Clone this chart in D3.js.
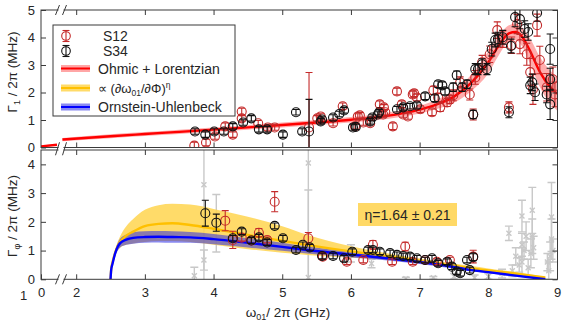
<!DOCTYPE html>
<html><head><meta charset="utf-8">
<script src="https://cdn.jsdelivr.net/npm/d3@7"></script>
<style>
body{margin:0;background:#fff}
svg{display:block}
text{font-family:"Liberation Sans",Arial,sans-serif;fill:#262626}
</style>
</head><body>
<svg id="c" width="569" height="325"></svg>
<script>
// ---------- tick labels ----------
const xTicks = [0, 2, 3, 4, 5, 6, 7, 8, 9];
const yTopTicks = [0, 1, 2, 3, 4, 5];
const yBotTicks = [0, 1, 2, 3, 4];

// ---------- top panel: Gamma_1 data [freq GHz, value MHz, error] ----------
const s12Top = [[3.72,0.07,0.12],[3.89,0.18,0.12],[4.02,0.40,0.1],[4.17,0.77,0.12],[4.28,0.47,0.1],[4.41,1.31,0.12],[4.41,1.06,0.1],[4.65,0.88,0.1],[4.79,0.73,0.1],[4.89,0.73,0.1],[5.39,0.73,2.0],[5.51,1.06,0.1],[5.56,1.13,0.1],[5.74,0.88,0.1],[5.88,1.50,0.12],[6.06,0.77,0.1],[6.10,1.13,0.1],[6.13,1.17,0.1],[6.18,0.91,0.1],[6.28,0.88,0.1],[6.42,1.57,0.12],[6.47,1.20,0.1],[6.48,1.46,0.1],[6.50,1.28,0.1],[6.61,0.77,0.12],[6.67,2.04,0.12],[6.74,1.57,0.12],[6.76,1.20,0.1],[6.83,1.13,0.1],[6.90,1.93,0.12],[6.92,1.97,0.12],[6.96,1.82,0.12],[7.01,1.39,0.12],[7.18,1.28,0.12],[7.20,2.08,0.15],[7.27,1.82,0.15],[7.30,1.46,0.15],[7.40,1.64,0.15],[7.44,1.75,0.15],[7.49,1.90,0.2],[7.59,2.37,0.2],[7.73,1.93,0.2],[7.78,1.20,0.2],[7.81,2.55,0.25],[7.91,3.10,0.25],[8.02,3.39,0.3],[8.13,4.27,0.3],[8.21,3.94,0.3],[8.30,1.46,0.2],[8.34,3.72,0.3],[8.42,4.49,0.35],[8.46,3.76,0.35],[8.56,3.39,0.4],[8.61,2.74,0.5],[8.65,2.12,0.55],[8.71,4.45,0.4],[8.75,3.18,0.5],[8.85,2.19,0.5],[8.94,2.48,0.45],[8.97,1.93,0.45]];
const s34Top = [[3.73,0.58,0.1],[3.88,0.47,0.1],[4.01,0.58,0.1],[4.15,0.58,0.1],[4.28,0.77,0.1],[4.43,0.91,0.1],[4.55,1.06,0.1],[4.66,0.66,0.1],[4.78,0.66,0.1],[5.01,0.47,0.1],[5.20,1.28,0.1],[5.29,0.58,0.1],[5.39,0.58,1.17],[5.56,0.95,0.1],[5.58,1.02,0.1],[5.74,1.09,0.1],[5.83,1.22,0.1],[5.90,1.35,0.1],[6.03,0.73,0.1],[6.07,0.75,0.1],[6.28,0.95,0.1],[6.31,1.09,0.1],[6.39,1.20,0.1],[6.41,1.28,0.1],[6.67,1.39,0.1],[6.76,1.46,0.1],[6.86,1.50,0.1],[6.96,1.53,0.1],[7.08,1.86,0.12],[7.22,1.79,0.12],[7.27,2.30,0.12],[7.33,2.26,0.12],[7.37,2.04,0.12],[7.49,2.19,0.15],[7.54,2.63,0.15],[7.62,2.19,0.15],[7.69,2.30,0.15],[7.78,1.20,0.15],[7.81,2.85,0.2],[7.85,2.85,0.2],[7.91,3.03,0.2],[7.98,2.85,0.2],[8.05,3.58,0.25],[8.10,3.91,0.25],[8.14,3.94,0.25],[8.21,4.01,0.25],[8.30,1.28,0.2],[8.33,3.69,0.25],[8.39,4.74,0.35],[8.46,4.67,0.35],[8.53,4.31,0.3],[8.58,4.20,0.3],[8.61,2.26,0.3],[8.64,2.37,0.3],[8.68,2.01,0.3],[8.71,4.89,0.3],[8.85,1.93,0.3],[8.90,3.58,0.55],[8.90,2.48,0.4],[8.90,1.57,0.55]];

// Ohmic + Lorentzian fit [freq, value, band half-width]
const fitLowSeg = [[0,0.04,0.03],[0.3,0.10,0.03]];
const fitMain = [[1.8,0.29,0.06],[2.5,0.41,0.07],[3.0,0.49,0.07],[3.5,0.57,0.08],[4.0,0.65,0.08],[4.5,0.73,0.08],[5.0,0.82,0.09],[5.5,0.91,0.09],[6.0,1.01,0.1],[6.5,1.14,0.11],[7.0,1.38,0.14],[7.25,1.57,0.17],[7.5,1.85,0.22],[7.75,2.35,0.3],[8.0,3.1,0.4],[8.15,3.7,0.35],[8.3,4.15,0.3],[8.4,4.2,0.3],[8.5,4.0,0.35],[8.6,3.55,0.45],[8.75,2.75,0.55],[8.9,2.2,0.6],[9.0,1.95,0.6]];

// ---------- bottom panel: Gamma_phi data ----------
const s12Bot = [[4.17,2.04,0.35],[4.28,1.37,0.3],[4.41,1.45,0.12],[4.55,1.35,0.1],[4.66,1.62,0.15],[4.78,1.37,0.1],[4.89,2.70,0.35],[5.38,1.43,0.2],[5.59,0.79,0.1],[5.94,0.61,0.1],[6.18,0.67,0.1],[6.32,1.20,0.15],[6.60,0.61,0.1],[6.79,1.14,0.15],[6.90,0.61,0.1],[7.08,0.67,0.1],[7.25,0.61,0.1],[7.44,0.67,0.1],[7.78,0.79,0.22]];
const s34Bot = [[3.88,2.30,0.45],[4.04,1.97,0.3],[4.28,1.43,0.1],[4.41,1.66,0.1],[4.55,1.35,0.1],[4.66,1.46,0.1],[4.78,1.28,0.1],[4.89,1.86,0.1],[5.01,1.43,0.1],[5.20,1.02,0.1],[5.30,1.20,0.1],[5.40,1.11,0.1],[5.58,0.81,0.1],[5.74,0.81,0.1],[5.90,0.73,0.1],[6.02,0.96,0.1],[6.25,1.02,0.1],[6.32,1.02,0.1],[6.42,0.96,0.1],[6.57,0.91,0.1],[6.67,0.85,0.1],[6.76,0.81,0.1],[6.86,0.79,0.1],[6.96,0.73,0.1],[7.08,0.67,0.1],[7.18,0.73,0.1],[7.27,0.56,0.1],[7.40,0.61,0.1],[7.47,0.44,0.1],[7.54,0.27,0.1],[7.59,0.21,0.1],[7.69,0.67,0.1],[7.73,0.32,0.1],[7.78,0.77,0.12]];
const excludedBot = [[3.86,3.29,3.5],[3.86,0.67,0.35],[3.72,0.12,0.3],[4.04,1.95,1.0],[5.38,4.05,4.5],[5.38,0.06,3.05],[6.0,0.9,0.3],[6.3,0.55,0.15],[6.8,0.02,0.05],[7.2,0.05,0.05],[7.5,0.1,0.1],[7.8,0.05,0.1],[8.0,0.1,0.1],[8.2,0.2,0.15],[8.30,1.6,0.25],[8.35,0.3,0.2],[8.40,0.8,0.3],[8.45,0.5,0.25],[8.49,2.2,0.55],[8.49,1.2,0.4],[8.49,0.6,0.5],[8.52,1.0,0.3],[8.55,1.5,0.5],[8.58,0.4,0.3],[8.62,0.9,0.5],[8.64,2.4,0.8],[8.64,1.5,0.6],[8.66,1.1,0.4],[8.86,0.6,0.3],[8.88,0.3,0.3],[8.90,0.8,0.5],[8.92,1.4,0.7],[8.92,2.17,1.2],[8.94,1.0,0.4]];

// fits
const fitPhiF    = [2.5,2.51,2.53,2.57,2.64,2.73,2.83,3.0,3.2,3.4,3.66,4.0,4.5,5.0,5.36,6.0,6.42,7.0,7.5,7.73,8.0,8.46,8.83];
const fitYel     = [0,0.35,0.6,0.95,1.3,1.52,1.66,1.85,1.93,1.95,1.89,1.76,1.54,1.34,1.2,0.97,0.84,0.64,0.47,0.39,0.31,0.18,0.06];
const fitYelHi   = [0,0.37,0.65,1.05,1.5,1.85,2.1,2.42,2.58,2.63,2.6,2.45,2.18,1.85,1.55,1.15,0.95,0.72,0.55,0.47,0.38,0.23,0.08];
const fitYelLo   = [0,0.33,0.55,0.85,1.1,1.2,1.25,1.3,1.33,1.33,1.3,1.2,1.05,0.92,0.85,0.75,0.7,0.55,0.4,0.33,0.26,0.14,0.04];
const fitBlue    = [0,0.33,0.55,0.92,1.26,1.38,1.44,1.47,1.48,1.47,1.46,1.40,1.27,1.13,1.02,0.86,0.76,0.6,0.43,0.33,0.25,0.11,0];
const fitBlueErr = [0,0.03,0.05,0.1,0.15,0.18,0.2,0.2,0.2,0.2,0.19,0.18,0.16,0.14,0.12,0.1,0.08,0.07,0.06,0.05,0.04,0.03,0];

const legendLabels = ["S12","S34","Ohmic + Lorentzian","","Ornstein-Uhlenbeck"];

// ---------- colours ----------
const RED = "#c42a2a", BLK = "#111", GRAY = "#c8c8c8";

// ---------- scales ----------
const X0 = 41, X1 = 557.5;
const x = d3.scaleLinear().domain([0, 0.3, 1.75, 9]).range([X0, 57, 59, 557]);
const yT = d3.scaleLinear().domain([0, 5]).range([147.5, 10]);
const yB = d3.scaleLinear().domain([0, 4.5]).range([279.3, 150]);

const svg = d3.select("#c");
const defs = svg.append("defs");
defs.append("clipPath").attr("id","cT").append("rect").attr("x",X0).attr("y",10).attr("width",X1-X0).attr("height",137.5);
defs.append("clipPath").attr("id","cB").append("rect").attr("x",X0).attr("y",150).attr("width",X1-X0).attr("height",129.3);

const gT = svg.append("g").attr("clip-path","url(#cT)");
const gB = svg.append("g").attr("clip-path","url(#cB)");

// ---------- top fit ----------
function bandAndLine(g, pts, y){
  g.append("path").datum(pts)
    .attr("d", d3.area().x(d=>x(d[0])).y0(d=>y(d[1]-d[2])).y1(d=>y(d[1]+d[2])).curve(d3.curveMonotoneX))
    .attr("fill","#ff0000").attr("fill-opacity",0.32);
  g.append("path").datum(pts)
    .attr("d", d3.line().x(d=>x(d[0])).y(d=>y(d[1])).curve(d3.curveMonotoneX))
    .attr("fill","none").attr("stroke","#ff0000").attr("stroke-width",2.4);
}
bandAndLine(gT, fitLowSeg, yT);
bandAndLine(gT, fitMain, yT);

// ---------- points ----------
function points(g, data, y, color, w){
  const s = g.append("g").attr("stroke",color).attr("fill","none").attr("stroke-width",w||1.1);
  data.forEach(d=>{
    const cx = x(d[0]), lo = y(d[1]-d[2]), hi = y(d[1]+d[2]);
    s.append("line").attr("x1",cx).attr("x2",cx).attr("y1",lo).attr("y2",hi);
    s.append("line").attr("x1",cx-3.5).attr("x2",cx+3.5).attr("y1",lo).attr("y2",lo);
    s.append("line").attr("x1",cx-3.5).attr("x2",cx+3.5).attr("y1",hi).attr("y2",hi);
    s.append("circle").attr("cx",cx).attr("cy",y(d[1])).attr("r",4.5);
  });
}
function crosses(g, data, y, color){
  const s = g.append("g").attr("stroke",color).attr("fill","none").attr("stroke-width",1.4);
  data.forEach(d=>{
    const cx = x(d[0]), cy = y(d[1]), lo = y(d[1]-d[2]), hi = y(d[1]+d[2]);
    s.append("line").attr("x1",cx).attr("x2",cx).attr("y1",lo).attr("y2",hi);
    s.append("line").attr("x1",cx-4).attr("x2",cx+4).attr("y1",lo).attr("y2",lo);
    s.append("line").attr("x1",cx-4).attr("x2",cx+4).attr("y1",hi).attr("y2",hi);
    s.append("path").attr("d",`M${cx-2.5},${cy-2.5}L${cx+2.5},${cy+2.5}M${cx-2.5},${cy+2.5}L${cx+2.5},${cy-2.5}`);
  });
}
points(gT, s12Top, yT, RED);
points(gT, s34Top, yT, BLK);

// ---------- bottom ----------
crosses(gB, excludedBot, yB, GRAY);
const idx = d3.range(fitPhiF.length);
gB.append("path").datum(idx)
  .attr("d", d3.area().x(i=>x(fitPhiF[i])).y0(i=>yB(fitYelLo[i])).y1(i=>yB(fitYelHi[i])).curve(d3.curveMonotoneX))
  .attr("fill","#ffd54f").attr("fill-opacity",0.85);
gB.append("path").datum(idx)
  .attr("d", d3.area().x(i=>x(fitPhiF[i])).y0(i=>yB(fitBlue[i]-fitBlueErr[i])).y1(i=>yB(fitBlue[i]+fitBlueErr[i])).curve(d3.curveMonotoneX))
  .attr("fill","#2a2ae6").attr("fill-opacity",0.55);
gB.append("path").datum(idx)
  .attr("d", d3.line().x(i=>x(fitPhiF[i])).y(i=>yB(fitYel[i])).curve(d3.curveMonotoneX))
  .attr("fill","none").attr("stroke","#ffc000").attr("stroke-width",2.4);
gB.append("path").datum(idx)
  .attr("d", d3.line().x(i=>x(fitPhiF[i])).y(i=>yB(fitBlue[i])).curve(d3.curveMonotoneX))
  .attr("fill","none").attr("stroke","#0000ff").attr("stroke-width",2.4);
points(gB, s12Bot, yB, RED);
points(gB, s34Bot, yB, BLK);

// ---------- axes ----------
const AX = "#3a3a3a";
function styleAxis(g){
  g.select(".domain").remove();
  g.selectAll(".tick line").attr("stroke",AX);
  g.selectAll(".tick text").attr("fill","#262626").style("font-size","13px").style("font-family","'Liberation Sans',Arial,sans-serif");
}
function panel(y, top, bot, yt, showX){
  svg.append("rect").attr("x",X0).attr("y",top).attr("width",X1-X0).attr("height",bot-top)
    .attr("fill","none").attr("stroke",AX).attr("stroke-width",1);
  svg.append("g").attr("transform",`translate(${X0},0)`)
    .call(d3.axisLeft(y).tickValues(yt).tickSize(-5).tickPadding(6).tickFormat(d3.format("d"))).call(styleAxis);
  svg.append("g").attr("transform",`translate(${X1},0)`)
    .call(d3.axisRight(y).tickValues(yt).tickSize(-5).tickFormat("")).call(styleAxis);
  svg.append("g").attr("transform",`translate(0,${top})`)
    .call(d3.axisTop(x).tickValues(xTicks.slice(1)).tickSize(-5).tickFormat("")).call(styleAxis);
  svg.append("g").attr("transform",`translate(0,${bot})`)
    .call(d3.axisBottom(x).tickValues(showX ? xTicks : xTicks.slice(1)).tickSize(-5).tickPadding(8.5)
      .tickFormat(showX ? d3.format("d") : "")).call(styleAxis);
}
panel(yT, 10, 147.5, yTopTicks, false);
panel(yB, 150, 279.3, yBotTicks, true);

// axis breaks
function brk(cx, cy, h){
  svg.append("rect").attr("x",cx-2.5).attr("y",cy-h/2+2).attr("width",5).attr("height",h-4).attr("fill","#fff");
  const g = svg.append("g").attr("stroke",AX).attr("stroke-width",1);
  g.append("line").attr("x1",cx-5.5).attr("y1",cy+h/2).attr("x2",cx-1.5).attr("y2",cy-h/2);
  g.append("line").attr("x1",cx+1.5).attr("y1",cy+h/2).attr("x2",cx+5.5).attr("y2",cy-h/2);
}
brk(61, 10, 10);
brk(61, 148.75, 13);
brk(61, 279.3, 10);

svg.append("text").attr("x",20).attr("y",300).style("font-size","13px").text("1");

// ---------- axis titles ----------
const t1 = svg.append("text").attr("transform","translate(17,72) rotate(-90)").attr("text-anchor","middle").style("font-size","13.5px");
t1.append("tspan").text("Γ");
t1.append("tspan").text("1").style("font-size","9px").attr("dy",3);
t1.append("tspan").text(" / 2π (MHz)").attr("dy",-3);
const t2 = svg.append("text").attr("transform","translate(17,216) rotate(-90)").attr("text-anchor","middle").style("font-size","13.5px");
t2.append("tspan").text("Γ");
t2.append("tspan").text("φ").style("font-size","9px").attr("dy",3);
t2.append("tspan").text(" / 2π (MHz)").attr("dy",-3);
const t3 = svg.append("text").attr("x",288).attr("y",317).attr("text-anchor","middle").style("font-size","13.5px");
t3.append("tspan").text("ω");
t3.append("tspan").text("01").style("font-size","9px").attr("dy",3);
t3.append("tspan").text("/ 2π (GHz)").attr("dy",-3);

// ---------- legend ----------
const L = svg.append("g");
L.append("rect").attr("x",53).attr("y",25).attr("width",182).attr("height",91).attr("fill","#fff").attr("stroke",AX);
function legMarker(cy, color){
  const g = L.append("g").attr("stroke",color).attr("fill","none").attr("stroke-width",1.1);
  g.append("line").attr("x1",66).attr("x2",66).attr("y1",cy-5.5).attr("y2",cy+5.5);
  g.append("line").attr("x1",62.5).attr("x2",69.5).attr("y1",cy-5.5).attr("y2",cy-5.5);
  g.append("line").attr("x1",62.5).attr("x2",69.5).attr("y1",cy+5.5).attr("y2",cy+5.5);
  g.append("circle").attr("cx",66).attr("cy",cy).attr("r",4.3);
}
legMarker(36, RED); legMarker(51, BLK);
L.append("text").attr("x",103).attr("y",41).style("font-size","14px").text(legendLabels[0]);
L.append("text").attr("x",103).attr("y",56).style("font-size","14px").text(legendLabels[1]);
function legLine(cy, band, bandOp, line){
  L.append("line").attr("x1",61).attr("x2",90).attr("y1",cy).attr("y2",cy).attr("stroke",band).attr("stroke-opacity",bandOp).attr("stroke-width",7);
  L.append("line").attr("x1",61).attr("x2",90).attr("y1",cy).attr("y2",cy).attr("stroke",line).attr("stroke-width",2);
}
legLine(68.5, "#ff0000", 0.35, "#ff0000");
legLine(88, "#ffd54f", 0.85, "#ffc000");
legLine(107, "#2a2ae6", 0.55, "#0000ff");
L.append("text").attr("x",98).attr("y",73.5).style("font-size","14px").text(legendLabels[2]);
const lt = L.append("text").attr("x",98).attr("y",93).style("font-size","13px");
lt.append("tspan").text("∝ (∂ω");
lt.append("tspan").text("01").style("font-size","8.5px").attr("dy",3);
lt.append("tspan").text("/∂Φ)").attr("dy",-3);
lt.append("tspan").text("η").style("font-size","8.5px").attr("dy",-5);
L.append("text").attr("x",98).attr("y",112).style("font-size","14px").text(legendLabels[4]);

// ---------- annotation ----------
svg.append("rect").attr("x",358).attr("y",203).attr("width",99).attr("height",23).attr("fill","#ffd966");
svg.append("text").attr("x",407.5).attr("y",219.5).attr("text-anchor","middle").style("font-size","14px").text("η=1.64 ± 0.21");
</script>
</body></html>
